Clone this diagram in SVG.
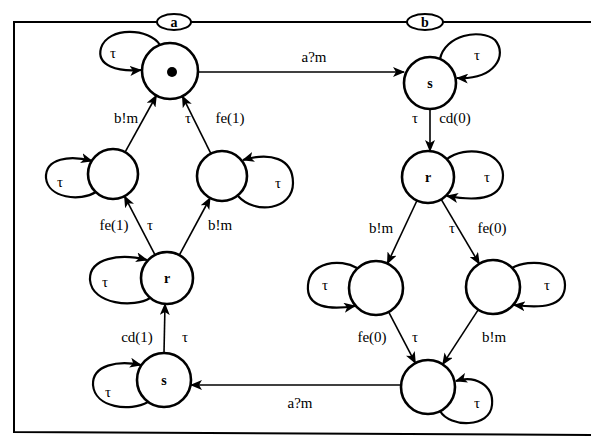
<svg xmlns="http://www.w3.org/2000/svg" width="591" height="439" viewBox="0 0 591 439">
<defs>
<marker id="ah" markerUnits="userSpaceOnUse" markerWidth="12" markerHeight="10" refX="11" refY="5" orient="auto">
<path d="M0,0 L12,5 L0,10 L3,5 Z" fill="#000"/>
</marker>
<style>
.node{fill:#fff;stroke:#000;stroke-width:2.6}
.edge{fill:none;stroke:#000;stroke-width:1.6;marker-end:url(#ah)}
.loop{fill:none;stroke:#000;stroke-width:2.2;marker-end:url(#ah)}
.frame{fill:none;stroke:#000;stroke-width:2}
text{font-family:"Liberation Serif","Times New Roman",serif;font-size:15px;fill:#000;text-anchor:middle}
.nl{font-weight:bold;font-size:14px}
</style>
</defs>
<rect width="591" height="439" fill="#fff"/>
<g id="frame">
<path class="frame" d="M591,22 L14,22 L14,432 L591,435"/>
<ellipse cx="174" cy="22" rx="17" ry="8" fill="#fff" stroke="#000" stroke-width="2"/>
<text x="174" y="27" class="nl">a</text>
<ellipse cx="425" cy="22" rx="18" ry="8" fill="#fff" stroke="#000" stroke-width="2"/>
<text x="425" y="27" class="nl">b</text>
</g>
<g id="connectors">
<path class="edge" d="M198,72 L404,72"/>
<path class="edge" d="M430,109 L430,151"/>
<path class="edge" d="M417,200.5 L387.4,263.6"/>
<path class="edge" d="M441.2,199.4 L479.3,263.8"/>
<path class="edge" d="M388.6,311.9 L415.4,363.1"/>
<path class="edge" d="M478.3,309.6 L442.7,364.4"/>
<path class="edge" d="M401,385 L191,385"/>
<path class="edge" d="M164,353 L165,304"/>
<path class="edge" d="M155,254.9 L124.5,196.2"/>
<path class="edge" d="M179.3,255.1 L210.1,198"/>
<path class="edge" d="M125.1,152.1 L156.4,95.5"/>
<path class="edge" d="M210.9,153.6 L182.4,96.1"/>
<path class="loop" d="M160,45 C150,28 108,26 101,48 C96,66 118,72 141,70"/>
<path class="loop" d="M96,192 C80,202 48,198 46,178 C45,158 70,155 92,161"/>
<path class="loop" d="M238,196 C255,215 293,210 293,183 C293,158 270,152 243,160"/>
<path class="loop" d="M150,298 C135,308 92,305 90,280 C89,258 120,253 147,260"/>
<path class="loop" d="M148,402 C130,412 95,408 93,385 C92,365 118,360 141,365"/>
<path class="loop" d="M440,59 C445,35 480,28 495,40 C508,55 495,80 457,78"/>
<path class="loop" d="M447,159 C465,145 502,150 503,175 C503,198 480,202 447,196"/>
<path class="loop" d="M357,268 C340,258 310,262 308,285 C306,308 330,310 355,306"/>
<path class="loop" d="M512,268 C530,258 565,262 565,285 C565,308 540,308 514,305"/>
<path class="loop" d="M440,411 C450,428 490,428 492,405 C494,385 475,375 456,381"/>
<text x="314" y="62">a?m</text>
<text x="300" y="408">a?m</text>
<text x="113" y="58">τ</text>
<text x="60" y="187">τ</text>
<text x="278" y="188">τ</text>
<text x="126" y="123">b!m</text>
<text x="188" y="123">τ</text>
<text x="230" y="123">fe(1)</text>
<text x="114" y="230">fe(1)</text>
<text x="150" y="230">τ</text>
<text x="220" y="230">b!m</text>
<text x="105" y="287">τ</text>
<text x="137" y="342">cd(1)</text>
<text x="185" y="342">τ</text>
<text x="108" y="397">τ</text>
<text x="477" y="60">τ</text>
<text x="415" y="123">τ</text>
<text x="455" y="123">cd(0)</text>
<text x="487" y="182">τ</text>
<text x="381" y="233">b!m</text>
<text x="452" y="233">τ</text>
<text x="492" y="233">fe(0)</text>
<text x="325" y="290">τ</text>
<text x="547" y="290">τ</text>
<text x="372" y="342">fe(0)</text>
<text x="415" y="342">τ</text>
<text x="494" y="342">b!m</text>
<text x="477" y="408">τ</text>
</g>
<g id="A0"><circle class="node" cx="170" cy="71" r="28"/><circle cx="172" cy="72" r="5" fill="#000"/></g>
<g id="AL"><circle class="node" cx="113" cy="174" r="25"/></g>
<g id="AR"><circle class="node" cx="222" cy="176" r="25"/></g>
<g id="Ar"><circle class="node" cx="167" cy="278" r="26"/><text x="167" y="283" class="nl">r</text></g>
<g id="As"><circle class="node" cx="164" cy="380" r="27"/><text x="164" y="385" class="nl">s</text></g>
<g id="Bs"><circle class="node" cx="430" cy="83" r="26"/><text x="430" y="88" class="nl">s</text></g>
<g id="Br"><circle class="node" cx="428" cy="177" r="26"/><text x="428" y="182" class="nl">r</text></g>
<g id="BL"><circle class="node" cx="376" cy="288" r="27"/></g>
<g id="BR"><circle class="node" cx="493" cy="287" r="27"/></g>
<g id="Bb"><circle class="node" cx="428" cy="387" r="27"/></g>
</svg>
